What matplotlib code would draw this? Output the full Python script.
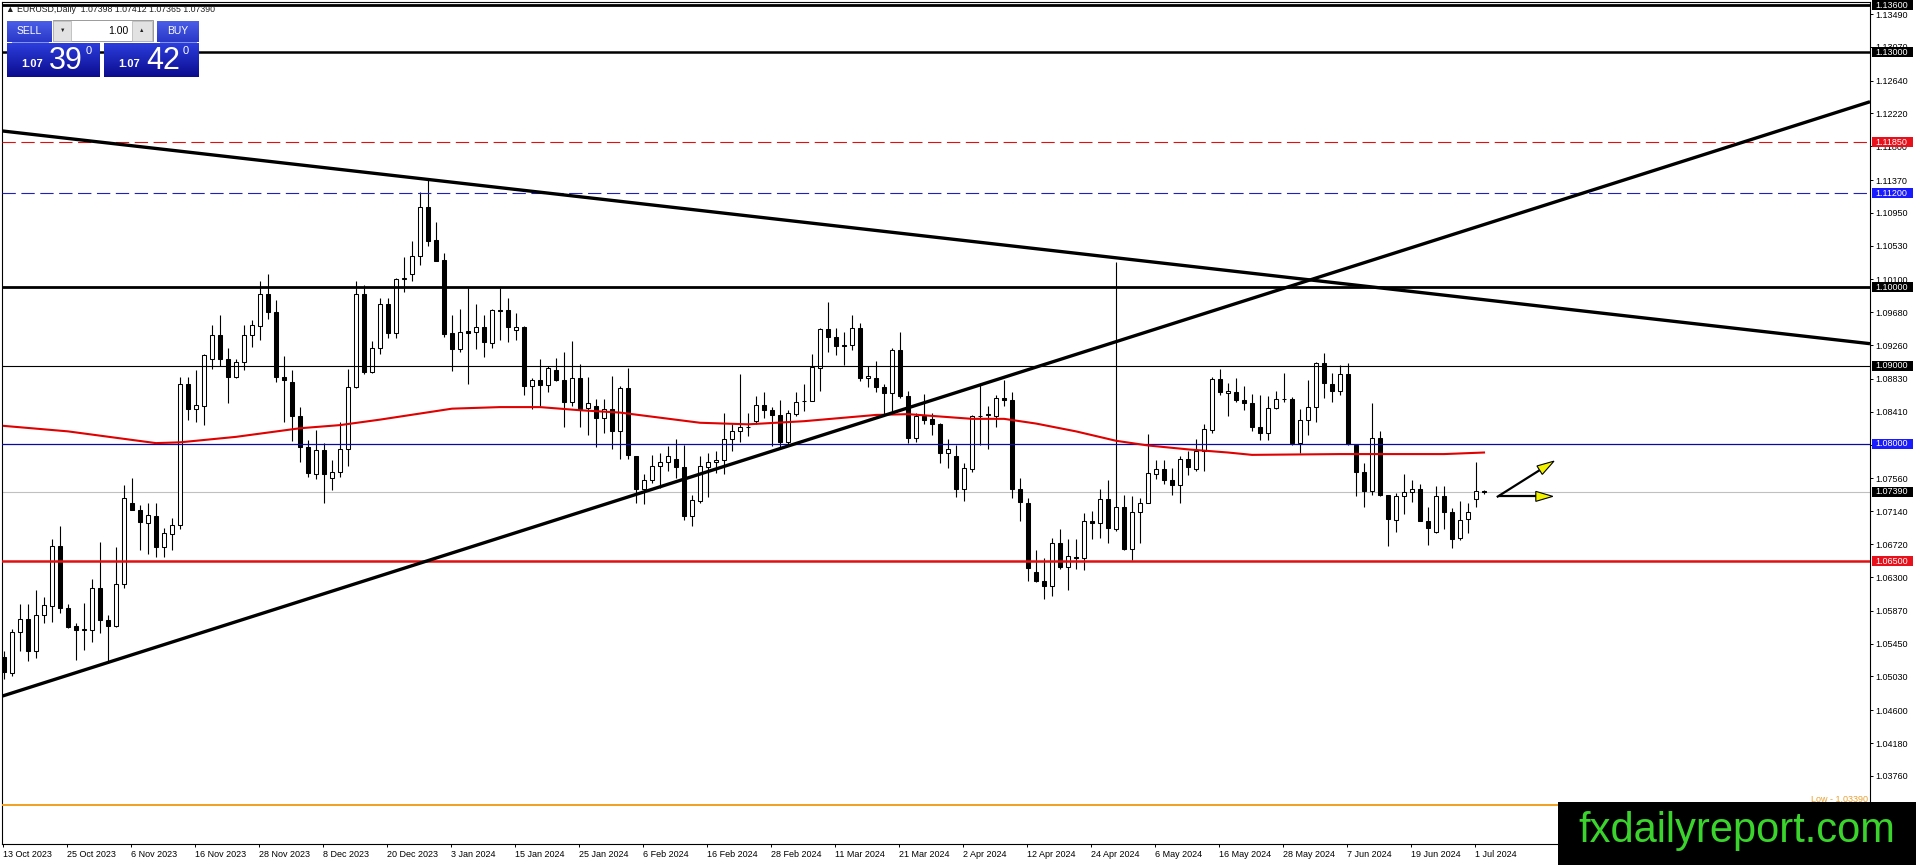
import numpy as np
import matplotlib
matplotlib.use("Agg")
import matplotlib.pyplot as plt
from matplotlib.patches import Rectangle, Polygon

plt.rcParams['font.family'] = ['Liberation Sans', 'DejaVu Sans']

# EURUSD daily candles, 13 Oct 2023 .. 2 Jul 2024
opens = [1.0528, 1.0508, 1.0560, 1.0577, 1.0535, 1.0582, 1.0593, 1.0670, 1.0590, 1.0567,
         1.0562, 1.0562, 1.0616, 1.0575, 1.0568, 1.0621, 1.0725, 1.0715, 1.0699, 1.0708,
         1.0668, 1.0685, 1.0697, 1.0877, 1.0845, 1.0849, 1.0909, 1.0939, 1.0909, 1.0886,
         1.0904, 1.0939, 1.0951, 1.0991, 1.0968, 1.0885, 1.0879, 1.0835, 1.0796, 1.0762,
         1.0792, 1.0757, 1.0764, 1.0793, 1.0873, 1.0991, 1.0892, 1.0923, 1.0979, 1.0941,
         1.1010, 1.1017, 1.1040, 1.1103, 1.1061, 1.1035, 1.0941, 1.0921, 1.0944, 1.0943,
         1.0949, 1.0929, 1.0971, 1.0971, 1.0945, 1.0949, 1.0874, 1.0881, 1.0875, 1.0894,
         1.0882, 1.0853, 1.0884, 1.0846, 1.0849, 1.0833, 1.0845, 1.0817, 1.0871, 1.0785,
         1.0742, 1.0754, 1.0772, 1.0777, 1.0781, 1.0771, 1.0708, 1.0727, 1.0771, 1.0777,
         1.0779, 1.0806, 1.0817, 1.0821, 1.0829, 1.0850, 1.0843, 1.0837, 1.0803, 1.0838,
         1.0855, 1.0855, 1.0897, 1.0947, 1.0936, 1.0926, 1.0926, 1.0948, 1.0884, 1.0884,
         1.0873, 1.0865, 1.0920, 1.0861, 1.0808, 1.0836, 1.0832, 1.0826, 1.0789, 1.0785,
         1.0743, 1.0768, 1.0836, 1.0837, 1.0836, 1.0859, 1.0856, 1.0743, 1.0725, 1.0637,
         1.0625, 1.0618, 1.0673, 1.0643, 1.0655, 1.0654, 1.0701, 1.0699, 1.0730, 1.0691,
         1.0720, 1.0666, 1.0713, 1.0724, 1.0762, 1.0768, 1.0754, 1.0748, 1.0781, 1.0768,
         1.0791, 1.0818, 1.0883, 1.0865, 1.0866, 1.0856, 1.0852, 1.0822, 1.0814, 1.0846,
         1.0857, 1.0857, 1.0801, 1.0830, 1.0847, 1.0903, 1.0877, 1.0867, 1.0889, 1.0798,
         1.0764, 1.0740, 1.0808, 1.0735, 1.0703, 1.0733, 1.0738, 1.0743, 1.0701, 1.0687,
         1.0733, 1.0713, 1.0680, 1.0704, 1.0730, 1.07398]
highs = [1.0535, 1.0563, 1.0595, 1.0595, 1.0614, 1.0605, 1.0679, 1.0695, 1.0595, 1.0571,
         1.0597, 1.0628, 1.0675, 1.0582, 1.0668, 1.0748, 1.0756, 1.0722, 1.0724, 1.0725,
         1.0693, 1.0706, 1.0886, 1.0885, 1.0895, 1.0915, 1.0952, 1.0965, 1.0922, 1.0909,
         1.0952, 1.0958, 1.1008, 1.1017, 1.0984, 1.0912, 1.0894, 1.0847, 1.0805, 1.0818,
         1.0801, 1.0779, 1.0828, 1.0896, 1.1008, 1.1003, 1.0931, 1.0986, 1.0986, 1.1012,
         1.1039, 1.1059, 1.1122, 1.1137, 1.1084, 1.1044, 1.0965, 1.0972, 1.0999, 1.0979,
         1.0965, 1.0972, 1.0999, 1.0986, 1.0967, 1.0951, 1.0884, 1.0908, 1.0899, 1.0910,
         1.0917, 1.0931, 1.0902, 1.0886, 1.0857, 1.0857, 1.0887, 1.0874, 1.0897, 1.0785,
         1.0762, 1.0786, 1.0788, 1.0797, 1.0806, 1.0799, 1.0735, 1.0785, 1.0788, 1.0791,
         1.0839, 1.0825, 1.0889, 1.0840, 1.0861, 1.0866, 1.0847, 1.0856, 1.0843, 1.0866,
         1.0876, 1.0915, 1.0948, 1.0981, 1.0948, 1.0943, 1.0964, 1.0954, 1.0899, 1.0906,
         1.0877, 1.0923, 1.0943, 1.0867, 1.0840, 1.0864, 1.0840, 1.0827, 1.0806, 1.0799,
         1.0776, 1.0837, 1.0877, 1.0849, 1.0862, 1.0881, 1.0866, 1.0757, 1.0731, 1.0665,
         1.0654, 1.0680, 1.0691, 1.0679, 1.0679, 1.0712, 1.0714, 1.0742, 1.0754, 1.1032,
         1.0735, 1.0733, 1.0731, 1.0813, 1.0779, 1.0779, 1.0769, 1.0785, 1.0791, 1.0806,
         1.0826, 1.0886, 1.0896, 1.0878, 1.0884, 1.0874, 1.0864, 1.0862, 1.0861, 1.0867,
         1.0890, 1.0860, 1.0845, 1.0882, 1.0904, 1.0916, 1.0890, 1.0901, 1.0903, 1.0798,
         1.0776, 1.0852, 1.0817, 1.0735, 1.0737, 1.0762, 1.0754, 1.0749, 1.0720, 1.0746,
         1.0746, 1.0718, 1.0727, 1.0725, 1.0777, 1.07412]
lows = [1.0500, 1.0503, 1.0535, 1.0523, 1.0527, 1.0571, 1.0572, 1.0584, 1.0565, 1.0524,
        1.0537, 1.0547, 1.0558, 1.0520, 1.0566, 1.0616, 1.0715, 1.0665, 1.0660, 1.0656,
        1.0656, 1.0665, 1.0691, 1.0831, 1.0828, 1.0824, 1.0896, 1.0900, 1.0852, 1.0884,
        1.0894, 1.0924, 1.0933, 1.0959, 1.0879, 1.0828, 1.0804, 1.0777, 1.0758, 1.0755,
        1.0724, 1.0741, 1.0758, 1.0772, 1.0871, 1.0889, 1.0891, 1.0915, 1.0935, 1.0935,
        1.0994, 1.1008, 1.1028, 1.1053, 1.1033, 1.0937, 1.0893, 1.0918, 1.0876, 1.0921,
        1.0911, 1.0923, 1.0933, 1.0930, 1.0933, 1.0862, 1.0845, 1.0848, 1.0866, 1.0880,
        1.0822, 1.0848, 1.0822, 1.0812, 1.0796, 1.0814, 1.0794, 1.0781, 1.0781, 1.0724,
        1.0723, 1.0750, 1.0744, 1.0765, 1.0757, 1.0703, 1.0695, 1.0725, 1.0732, 1.0763,
        1.0761, 1.0791, 1.0803, 1.0810, 1.0825, 1.0833, 1.0797, 1.0795, 1.0798, 1.0835,
        1.0842, 1.0855, 1.0867, 1.0918, 1.0914, 1.0901, 1.0920, 1.0880, 1.0873, 1.0866,
        1.0837, 1.0840, 1.0859, 1.0801, 1.0803, 1.0825, 1.0812, 1.0776, 1.0769, 1.0732,
        1.0727, 1.0764, 1.0799, 1.0793, 1.0822, 1.0848, 1.0731, 1.0701, 1.0625, 1.0623,
        1.0602, 1.0606, 1.0640, 1.0613, 1.0640, 1.0639, 1.0678, 1.0680, 1.0674, 1.0689,
        1.0665, 1.0652, 1.0674, 1.0724, 1.0755, 1.0749, 1.0735, 1.0725, 1.0760, 1.0766,
        1.0766, 1.0814, 1.0862, 1.0835, 1.0854, 1.0843, 1.0817, 1.0805, 1.0805, 1.0844,
        1.0853, 1.0799, 1.0788, 1.0811, 1.0828, 1.0859, 1.0854, 1.0862, 1.0799, 1.0733,
        1.0720, 1.0735, 1.0734, 1.0669, 1.0687, 1.0710, 1.0726, 1.0701, 1.0671, 1.0686,
        1.0691, 1.0667, 1.0677, 1.0686, 1.0720, 1.07365]
closes = [1.0509, 1.0560, 1.0577, 1.0536, 1.0582, 1.0594, 1.0669, 1.0590, 1.0566, 1.0562,
          1.0564, 1.0616, 1.0575, 1.0568, 1.0621, 1.0731, 1.0716, 1.0700, 1.0709, 1.0668,
          1.0686, 1.0697, 1.0877, 1.0845, 1.0850, 1.0914, 1.0939, 1.0909, 1.0886, 1.0904,
          1.0939, 1.0952, 1.0991, 1.0968, 1.0886, 1.0881, 1.0835, 1.0796, 1.0763, 1.0792,
          1.0762, 1.0764, 1.0793, 1.0873, 1.0991, 1.0892, 1.0922, 1.0979, 1.0941, 1.1010,
          1.1012, 1.1040, 1.1103, 1.1059, 1.1034, 1.0940, 1.0921, 1.0943, 1.0942, 1.0949,
          1.0930, 1.0971, 1.0970, 1.0949, 1.0949, 1.0874, 1.0881, 1.0875, 1.0897, 1.0881,
          1.0853, 1.0884, 1.0845, 1.0852, 1.0833, 1.0845, 1.0817, 1.0871, 1.0786, 1.0742,
          1.0754, 1.0772, 1.0777, 1.0785, 1.0771, 1.0708, 1.0728, 1.0772, 1.0777, 1.0779,
          1.0806, 1.0817, 1.0822, 1.0821, 1.0850, 1.0843, 1.0837, 1.0803, 1.0839, 1.0854,
          1.0855, 1.0898, 1.0947, 1.0936, 1.0925, 1.0925, 1.0948, 1.0884, 1.0887, 1.0873,
          1.0865, 1.0920, 1.0861, 1.0808, 1.0836, 1.0830, 1.0825, 1.0789, 1.0794, 1.0743,
          1.0769, 1.0836, 1.0836, 1.0838, 1.0859, 1.0856, 1.0743, 1.0726, 1.0642, 1.0625,
          1.0618, 1.0673, 1.0643, 1.0657, 1.0654, 1.0701, 1.0699, 1.0730, 1.0693, 1.0720,
          1.0666, 1.0713, 1.0724, 1.0763, 1.0768, 1.0754, 1.0748, 1.0781, 1.0771, 1.0791,
          1.0819, 1.0883, 1.0866, 1.0868, 1.0856, 1.0852, 1.0822, 1.0814, 1.0846, 1.0857,
          1.0857, 1.0801, 1.0830, 1.0847, 1.0903, 1.0878, 1.0867, 1.0889, 1.0800, 1.0764,
          1.0740, 1.0808, 1.0735, 1.0704, 1.0733, 1.0738, 1.0743, 1.0701, 1.0693, 1.0733,
          1.0713, 1.0679, 1.0703, 1.0713, 1.0740, 1.07390]

date_labels = ["13 Oct 2023", "25 Oct 2023", "6 Nov 2023", "16 Nov 2023", "28 Nov 2023",
               "8 Dec 2023", "20 Dec 2023", "3 Jan 2024", "15 Jan 2024", "25 Jan 2024",
               "6 Feb 2024", "16 Feb 2024", "28 Feb 2024", "11 Mar 2024", "21 Mar 2024",
               "2 Apr 2024", "12 Apr 2024", "24 Apr 2024", "6 May 2024", "16 May 2024",
               "28 May 2024", "7 Jun 2024", "19 Jun 2024", "1 Jul 2024"]

# red moving average, sampled along the curve
ma_bars = [0, 8, 19, 22, 29, 37, 42, 47, 56, 62, 67, 72, 77, 87, 93, 100, 109, 113, 117,
           121, 125, 129, 134, 139, 143, 148, 153, 156, 167, 180, 185]
ma_vals = [1.0823, 1.0816, 1.0801, 1.0802, 1.0809, 1.0820, 1.0824, 1.0831, 1.0845, 1.0847,
           1.0847, 1.0843, 1.0840, 1.0827, 1.0825, 1.0829, 1.0837, 1.0838, 1.0835, 1.0832,
           1.0832, 1.0826, 1.0816, 1.0804, 1.0798, 1.0793, 1.0789, 1.0786, 1.0787, 1.0787,
           1.0789]

price_ticks = [1.03760, 1.04180, 1.04600, 1.05030, 1.05450, 1.05870, 1.06300, 1.06720,
               1.07140, 1.07560, 1.07990, 1.08410, 1.08830, 1.09260, 1.09680, 1.10100,
               1.10530, 1.10950, 1.11370, 1.11800, 1.12220, 1.12640, 1.13070, 1.13490]

# horizontal levels
level_prices = [1.13600, 1.13000, 1.11850, 1.11200, 1.10000, 1.09000, 1.08000, 1.06500]
level_styles = [('black', 2.0, '-'), ('black', 1.8, '-'), ('#e01010', 0.8, (0, (12, 5))),
                ('#2020c0', 0.8, (0, (12, 5))), ('black', 2.0, '-'), ('black', 0.8, '-'),
                ('#0a0aa0', 0.9, '-'), ('#e01010', 1.8, '-')]
bid = 1.07390
low_level = 1.03390

# trend lines: (bar, price) end points
trend_down = ([-0.5, 233.25], [1.1200, 1.0928])
trend_up = ([-0.5, 233.25], [1.0477, 1.1237])

# yellow arrows: (bar0, price0, bar1, price1)
arrows = [(186.6, 1.0732, 193.75, 1.0778), (186.9, 1.0733, 193.6, 1.0733)]

# labels drawn on the price scale
tag_prices = [1.13600, 1.13000, 1.11850, 1.11200, 1.10000, 1.09000, 1.08000, 1.07390, 1.06500]
tag_colors = ['black', 'black', '#e8101a', '#1a1aff', 'black', 'black', '#1a1aff', 'black', '#e8101a']

W, H = 1916, 865
fig = plt.figure(figsize=(W / 100, H / 100), dpi=100)
ax = fig.add_axes([2 / W, 21 / H, 1868 / W, 842 / H])
ax.set_xlim(-0.25, 233.25)
ax.set_ylim(1.028902, 1.136437)

o = np.array(opens); h = np.array(highs); l = np.array(lows); c = np.array(closes)
x = np.arange(len(o))
up = c >= o
ax.vlines(x, l, h, color='black', lw=0.8, zorder=2)
bot = np.minimum(o, c)
hgt = np.maximum(np.abs(c - o), 0.00002)
ax.bar(x[up], hgt[up], bottom=bot[up], width=0.6, facecolor='white',
       edgecolor='black', linewidth=0.75, zorder=3)
ax.bar(x[~up], hgt[~up], bottom=bot[~up], width=0.6, facecolor='black',
       edgecolor='black', linewidth=0.75, zorder=3)

# levels and lines
ax.axhline(bid, color='#c0c0c0', lw=0.8, zorder=1)
for p, (col, lw, ls) in zip(level_prices, level_styles):
    ax.axhline(p, color=col, lw=lw, linestyle=ls, zorder=4)
ax.axhline(low_level, color='#f0a020', lw=1.4, zorder=4)
ax.text(1 - 2 / 1868, low_level + 0.00012, 'Low - 1.03390', transform=ax.get_yaxis_transform(),
        ha='right', va='bottom', fontsize=6.5, color='#e8a030', zorder=5)

ax.plot(ma_bars, ma_vals, color='#e00000', lw=1.5, zorder=5)
ax.plot(*trend_down, color='black', lw=2.4, zorder=6, solid_capstyle='butt')
ax.plot(*trend_up, color='black', lw=2.4, zorder=6, solid_capstyle='butt')

# axes look
for s in ax.spines.values():
    s.set_color('black')
    s.set_linewidth(0.8)
ax.yaxis.tick_right()
ax.set_yticks(price_ticks)
ax.set_yticklabels([f"{t:.5f}" for t in price_ticks])
ax.set_xticks([8 * k - 0.15 for k in range(len(date_labels))])
ax.set_xticklabels(date_labels)
for t in ax.get_xticklabels():
    t.set_ha('left')
ax.tick_params(axis='both', length=2.5, width=0.7, pad=1.5, labelsize=6.5, colors='black')

# coloured price tags on the scale
tag_h = 10 / 7830
for p, col in zip(tag_prices, tag_colors):
    ax.add_patch(Rectangle((1870 / 1868 - 0.0002, p - tag_h / 2), 41 / 1868, tag_h,
                           transform=ax.get_yaxis_transform(), facecolor=col,
                           edgecolor='none', clip_on=False, zorder=10))
    ax.text(1873 / 1868, p, f"{p:.5f}", transform=ax.get_yaxis_transform(), ha='left',
            va='center', fontsize=6.5, color='white', clip_on=False, zorder=11)

# overlay in pixel coordinates
ov = fig.add_axes([0, 0, 1, 1], zorder=20)
ov.patch.set_alpha(0)
ov.set_axis_off()


def to_px(bx, py):
    dx, dy = ax.transData.transform((bx, py))
    return dx, H - dy


for b0, p0, b1, p1 in arrows:
    x0, y0 = to_px(b0, p0)
    x1, y1 = to_px(b1, p1)
    v = np.array([x1 - x0, y1 - y0])
    u = v / np.hypot(*v)
    n = np.array([-u[1], u[0]])
    base = np.array([x1, y1]) - 17 * u
    ov.plot([x0, base[0]], [y0, base[1]], color='black', lw=1.6, solid_capstyle='butt')
    ov.add_patch(Polygon([(x1, y1), tuple(base + 5 * n), tuple(base - 5 * n)],
                         closed=True, facecolor='#f2f200', edgecolor='black', lw=0.8))


def grad(x0, y0, x1, y1, ctop, cbot):
    from matplotlib.colors import to_rgb
    a = np.array(to_rgb(ctop)); b = np.array(to_rgb(cbot))
    t = np.linspace(0, 1, 32)[:, None, None]
    img = a * (1 - t) + b * t
    img = np.repeat(img, 2, axis=1)
    ov.imshow(img, extent=(x0, x1, y1, y0), aspect='auto', interpolation='bilinear', zorder=3)


# one-click trading panel
grad(7, 21, 52, 42, '#4a5ee8', '#2a38c8')
grad(157, 21, 199, 42, '#4a5ee8', '#2a38c8')
grad(7, 43, 100, 77, '#2b3ddc', '#0c0c8e')
grad(104, 43, 199, 77, '#2b3ddc', '#0c0c8e')
ov.add_patch(Rectangle((53, 20), 100, 21, facecolor='white', edgecolor='#9a9a9a', lw=0.7, zorder=4))
ov.add_patch(Rectangle((53.5, 20.5), 18, 20, facecolor='#e2e2e2', edgecolor='#b0b0b0', lw=0.5, zorder=5))
ov.add_patch(Rectangle((132, 20.5), 20.5, 20, facecolor='#e2e2e2', edgecolor='#b0b0b0', lw=0.5, zorder=5))
ov.text(62.5, 30.5, '▼', fontsize=4, ha='center', va='center', color='#222222', zorder=6)
ov.text(142, 30.5, '▲', fontsize=4, ha='center', va='center', color='#222222', zorder=6)
ov.text(128, 30.5, '1.00', fontsize=7.5, ha='right', va='center', color='black', zorder=6)
ov.text(29, 31, 'SELL', fontsize=7.5, ha='center', va='center', color='white', zorder=6)
ov.text(178, 31, 'BUY', fontsize=7.5, ha='center', va='center', color='white', zorder=6)
ov.plot([12, 48], [42, 42], color='#8090f0', lw=0.7, zorder=6)
ov.plot([160, 196], [42, 42], color='#8090f0', lw=0.7, zorder=6)
for xs, big in [(0, '39'), (97, '42')]:
    ov.text(32 + xs, 64, '1.07', fontsize=8, fontweight='bold', ha='center', va='center',
            color='white', zorder=6)
    ov.text(66 + xs, 61, big, fontsize=22, ha='center', va='center', color='white', zorder=6)
    ov.text(88.5 + xs, 51.5, '0', fontsize=8, ha='center', va='center', color='white', zorder=6)

ov.text(6, 9.5, '▲ EURUSD,Daily  1.07398 1.07412 1.07365 1.07390', fontsize=6.3,
        ha='left', va='center', color='#202020', zorder=6)

# watermark
ov.add_patch(Rectangle((1558, 802), 358, 63, facecolor='black', edgecolor='none', zorder=7))
ov.text(1737, 831, 'fxdailyreport.com', fontsize=30, ha='center', va='center',
        color='#3ad42c', zorder=8)

ov.set_xlim(0, W)
ov.set_ylim(H, 0)

fig.savefig('out.png', dpi=100)
